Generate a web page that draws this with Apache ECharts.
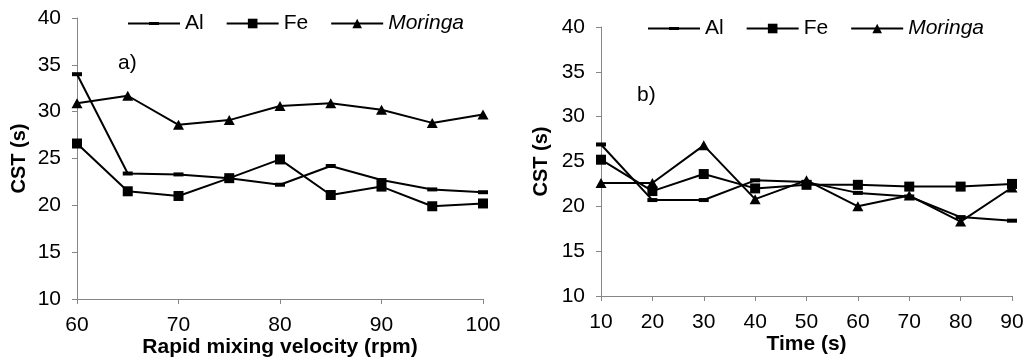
<!DOCTYPE html>
<html>
<head>
<meta charset="utf-8">
<script src="https://cdn.jsdelivr.net/npm/echarts@6/dist/echarts.min.js"></script>
<style>
  html, body { margin: 0; padding: 0; background: #fff; }
  #chart { width: 1027px; height: 360px; }
</style>
</head>
<body>
<div id="chart"></div>
<script>
// Panel a) CST versus rapid mixing velocity
const velocity = [60, 65, 70, 75, 80, 85, 90, 95, 100];
const alVelocity = [34.0, 23.4, 23.3, 22.9, 22.2, 24.2, 22.7, 21.7, 21.4];
const feVelocity = [26.6, 21.5, 21.0, 22.9, 24.9, 21.1, 22.0, 19.9, 20.2];
const moringaVelocity = [30.9, 31.7, 28.6, 29.1, 30.6, 30.9, 30.2, 28.8, 29.7];

// Panel b) CST versus rapid mixing time
const time = [10, 20, 30, 40, 50, 60, 70, 80, 90];
const alTime = [26.9, 20.7, 20.7, 22.9, 22.7, 21.5, 21.1, 18.8, 18.4];
const feTime = [25.2, 21.7, 23.6, 22.0, 22.4, 22.4, 22.2, 22.2, 22.5];
const moringaTime = [22.6, 22.6, 26.8, 20.8, 22.9, 20.0, 21.2, 18.3, 22.1];

const seriesNames = ['Al', 'Fe', 'Moringa'];
const panelLabels = ['a)', 'b)'];
const xNames = ['Rapid mixing velocity (rpm)', 'Time (s)'];
const yName = 'CST (s)';

const FONT = 'Liberation Sans, Arial, sans-serif';
const AXIS_GREY = '#868686';

const pair = (xs, ys) => xs.map((x, i) => [x, ys[i]]);

// Al uses a flat dash marker, Fe a square, Moringa a triangle
const markers = {
  Al: { symbol: 'rect', symbolSize: [10, 4] },
  Fe: { symbol: 'rect', symbolSize: 10 },
  Moringa: { symbol: 'triangle', symbolSize: [11, 10] }
};
// legend key for Al: line with a flat dash in the middle (52 x 12 box)
const alLegendIcon = 'path://M0,5H21V4.5H31V5H52V7H31V7.5H21V7H0Z';

function makeSeries(name, data, idx) {
  return {
    name: name,
    type: 'line',
    xAxisIndex: idx,
    yAxisIndex: idx,
    data: data,
    symbol: markers[name].symbol,
    symbolSize: markers[name].symbolSize,
    showSymbol: true,
    lineStyle: { color: '#000', width: 2 },
    itemStyle: { color: '#000', borderWidth: 0 },
    emphasis: { disabled: true },
    animation: false,
    z: 3
  };
}

function xAxis(idx, min, max) {
  return {
    type: 'value',
    gridIndex: idx,
    min: min, max: max, interval: 10,
    name: xNames[idx],
    nameLocation: 'middle',
    nameGap: 38,
    nameMoveOverlap: false,
    nameTextStyle: { fontFamily: FONT, fontSize: 21, fontWeight: 'bold', color: '#000' },
    axisLine: { show: true, lineStyle: { color: AXIS_GREY, width: 1 } },
    axisTick: { show: true, length: 5, inside: false, lineStyle: { color: AXIS_GREY } },
    axisLabel: { fontFamily: FONT, fontSize: 21, color: '#000', margin: 16 },
    splitLine: { show: false }
  };
}

function yAxis(idx, gap) {
  return {
    type: 'value',
    gridIndex: idx,
    min: 10, max: 40, interval: 5,
    name: yName,
    nameLocation: 'middle',
    nameGap: gap,
    nameMoveOverlap: false,
    nameTextStyle: { fontFamily: FONT, fontSize: 20, fontWeight: 'bold', color: '#000' },
    axisLine: { show: true, lineStyle: { color: AXIS_GREY, width: 1 } },
    axisTick: { show: true, length: 5, inside: false, lineStyle: { color: AXIS_GREY } },
    axisLabel: { fontFamily: FONT, fontSize: 21, color: '#000', margin: 16 },
    splitLine: { show: false }
  };
}

function legend(idx, left, top) {
  return {
    left: left, top: top,
    orient: 'horizontal',
    padding: 0,
    itemWidth: 52,
    itemHeight: 12,
    itemGap: 22,
    symbolKeepAspect: true,
    selectedMode: false,
    data: seriesNames.map(n => n === 'Al' ? { name: n, icon: alLegendIcon } : { name: n }),
    formatter: n => n === 'Moringa' ? '{i|' + n + '}' : n,
    textStyle: {
      fontFamily: FONT, fontSize: 21, color: '#000',
      rich: { i: { fontFamily: FONT, fontSize: 21, fontStyle: 'italic', color: '#000' } }
    }
  };
}

const chart = echarts.init(document.getElementById('chart'), null, { renderer: 'canvas' });

chart.setOption({
  backgroundColor: '#fff',
  animation: false,
  grid: [
    { left: 77, right: 544, top: 18, bottom: 61, containLabel: false, outerBoundsMode: 'none' },
    { left: 601, right: 15, top: 27, bottom: 64, containLabel: false, outerBoundsMode: 'none' }
  ],
  xAxis: [xAxis(0, 60, 100), xAxis(1, 10, 90)],
  yAxis: [yAxis(0, 48), yAxis(1, 50)],
  legend: [legend(0, 128, 13), legend(1, 648, 18)],
  graphic: [
    { type: 'text', left: 118, top: 53, style: { text: panelLabels[0], font: '21px ' + FONT, fill: '#000' } },
    { type: 'text', left: 637, top: 85, style: { text: panelLabels[1], font: '21px ' + FONT, fill: '#000' } }
  ],
  series: [
    makeSeries('Al', pair(velocity, alVelocity), 0),
    makeSeries('Fe', pair(velocity, feVelocity), 0),
    makeSeries('Moringa', pair(velocity, moringaVelocity), 0),
    makeSeries('Al', pair(time, alTime), 1),
    makeSeries('Fe', pair(time, feTime), 1),
    makeSeries('Moringa', pair(time, moringaTime), 1)
  ]
});
</script>
</body>
</html>
